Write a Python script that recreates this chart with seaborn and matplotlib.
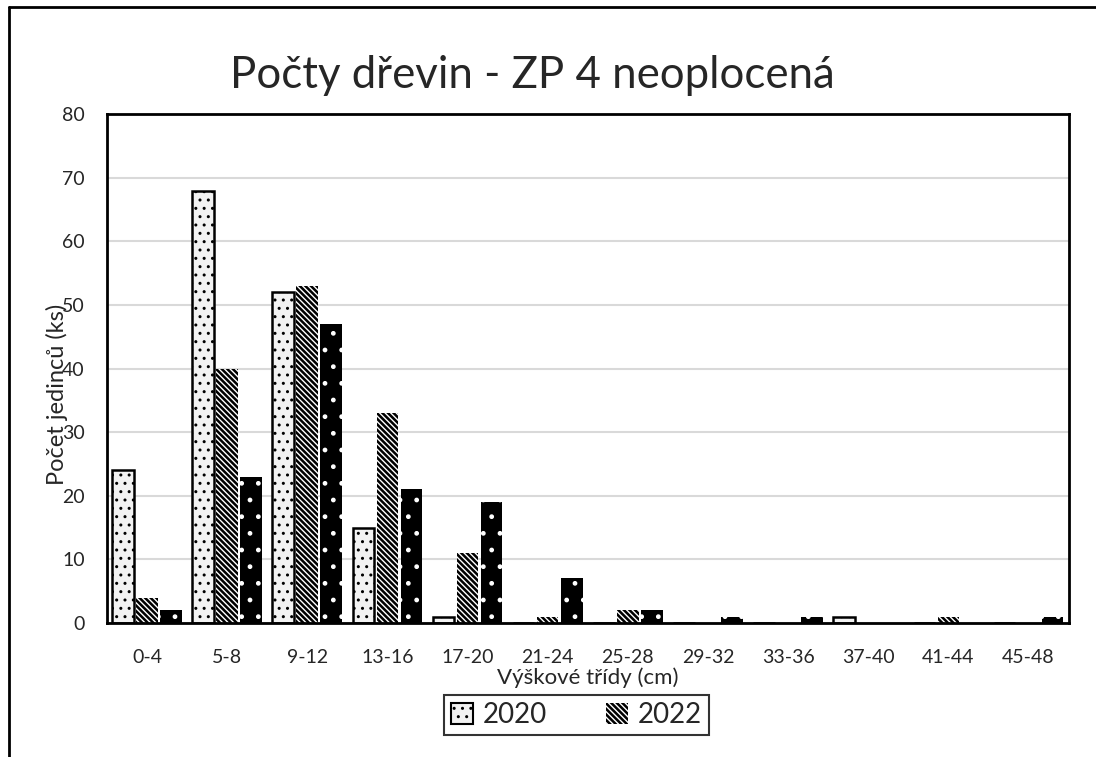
import pandas as pd
import numpy as np
import matplotlib.pyplot as plt
import seaborn as sns
from matplotlib.patches import Patch
from matplotlib.lines import Line2D

classes = ['0-4', '5-8', '9-12', '13-16', '17-20', '21-24', '25-28',
           '29-32', '33-36', '37-40', '41-44', '45-48']
s2020 = [24, 68, 52, 15, 1, 0, 0, 0, 0, 1, 0, 0]
s2022 = [4, 40, 53, 33, 11, 1, 2, 0, 0, 0, 1, 0]
s_third = [2, 23, 47, 21, 19, 7, 2, 1, 1, 0, 0, 1]
series_names = ['2020', '2022', 'third']

df = pd.DataFrame({
    'trida': classes * 3,
    'pocet': s2020 + s2022 + s_third,
    'rok': [series_names[0]] * 12 + [series_names[1]] * 12 + [series_names[2]] * 12,
})

sns.set_style('white')
plt.rcParams['font.family'] = ['Lato', 'DejaVu Sans']
plt.rcParams['hatch.linewidth'] = 1.0

fig = plt.figure(figsize=(10.96, 7.57), dpi=100)
ax = fig.add_axes([0.0975, 0.177, 0.8775, 0.672])

sns.barplot(data=df, x='trida', y='pocet', hue='rok', order=classes,
            hue_order=series_names, width=0.9, gap=0.1, legend=False, ax=ax)

# styles per series (face, edge, hatch, linewidth)
styles = [('#f2f2f2', 'black', '..', 1.8),
          ('black', 'white', '\\\\\\\\\\\\', 0.0),
          ('black', 'white', '.', 0.0)]
for cont, (fc, ec, h, lw) in zip(ax.containers, styles):
    for bar in cont:
        bar.set_facecolor(fc)
        bar.set_edgecolor(ec)
        bar.set_hatch(h)
        bar.set_linewidth(lw)

ax.set_ylim(0, 80)
ax.set_yticks(range(0, 81, 10))
ax.yaxis.grid(True, color='#d9d9d9', linewidth=1.5)
ax.set_axisbelow(True)
for sp in ax.spines.values():
    sp.set_color('black')
    sp.set_linewidth(2)
ax.tick_params(axis='y', length=0, labelsize=14, pad=16)
ax.tick_params(axis='x', length=0, labelsize=14, pad=19)

ax.set_xlabel('Výškové třídy (cm)', fontsize=16, labelpad=1)
ax.set_ylabel('Počet jedinců (ks)', fontsize=17)
ax.yaxis.set_label_coords(-0.04, 0.45)

fig.text(0.486, 0.9, 'Počty dřevin - ZP 4 neoplocená', fontsize=31.5, ha='center', va='center')

handles = [Patch(facecolor='#f2f2f2', edgecolor='black', hatch='..', linewidth=1.5, label='2020'),
           Patch(facecolor='black', edgecolor='white', hatch='\\\\\\\\\\\\', linewidth=0, label='2022')]
leg = fig.legend(handles=handles, loc='center', bbox_to_anchor=(0.526, 0.0555), ncol=2,
                 fontsize=20, frameon=True, fancybox=False, edgecolor='black',
                 handlelength=0.8, handleheight=0.8, columnspacing=2.1, handletextpad=0.35,
                 borderpad=0.25, borderaxespad=0)
leg.get_frame().set_linewidth(1.5)

# outer chart frame (top and left edges visible)
fig.add_artist(Line2D([9 / 1096, 1.0], [1 - 7 / 757, 1 - 7 / 757], transform=fig.transFigure,
                      color='black', linewidth=2))
fig.add_artist(Line2D([9 / 1096, 9 / 1096], [0.0, 1 - 7 / 757], transform=fig.transFigure,
                      color='black', linewidth=2))

fig.savefig('out.png', dpi=100)
